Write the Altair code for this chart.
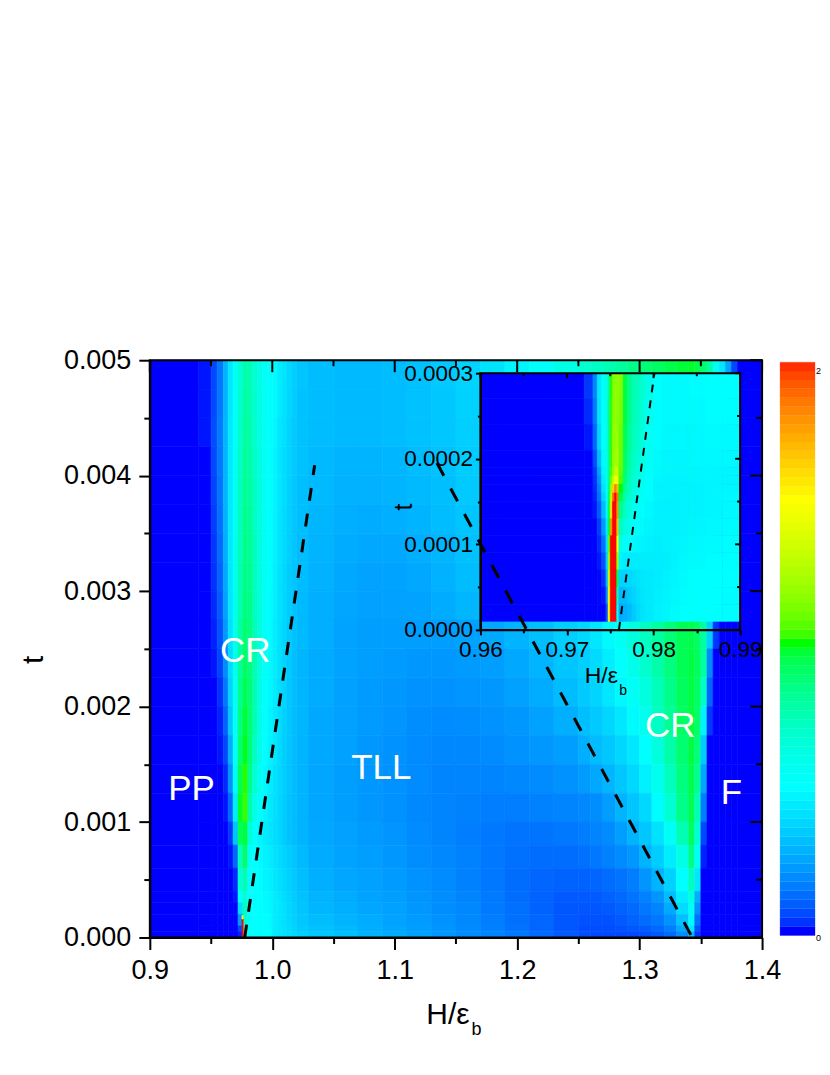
import altair as alt
import pandas as pd

FONT = "Liberation Sans"

# ---------- main map: column edges in H/eps_b, row edges in t ----------
x_edges = [0.90, 0.94, 0.95, 0.955, 0.96, 0.964, 0.968, 0.972, 0.976, 0.98, 0.984, 0.988, 0.992, 0.996, 1.0,
           1.004, 1.008, 1.012, 1.016, 1.02, 1.03, 1.05, 1.07, 1.09, 1.11, 1.13, 1.15, 1.17, 1.19, 1.21, 1.23,
           1.25, 1.26, 1.27, 1.28, 1.29, 1.30, 1.31, 1.32, 1.33, 1.34, 1.345, 1.35, 1.355, 1.36, 1.365, 1.37,
           1.375, 1.38, 1.40]
t_edges_down = [0.005, 0.00475, 0.0045, 0.00425, 0.004, 0.00375, 0.0035, 0.00325, 0.003, 0.00275, 0.0025,
                0.00225, 0.002, 0.00175, 0.0015, 0.00125, 0.001, 0.0008, 0.0006, 0.0004, 0.0003, 0.0002,
                0.0001, 0.00005, 0.0]
main_rows = [
 [0,1,8,20,40,60,72,85,94,92,85,80,74,72,68,62,58,54,50,46,43,42,42,43,45,48,52,58,66,72,80,85,88,92,96,100,103,106,109,111,112,110,105,95,76,60,35,8,0],
 [0,1,8,20,40,60,72,86,95,93,86,80,75,72,68,62,58,53,49,45,43,42,42,43,45,47,51,57,65,71,79,84,88,92,96,100,103,106,109,111,112,110,104,92,72,55,28,5,0],
 [0,1,9,21,41,61,72,87,96,94,87,80,75,71,67,61,57,52,48,45,43,42,42,43,45,47,50,56,64,70,78,83,87,91,95,99,103,106,109,111,113,110,103,88,66,45,20,2,0],
 [0,0,8,20,40,61,73,88,97,95,88,81,75,71,66,60,56,52,48,45,42,40,40,41,43,45,49,55,62,69,77,82,86,91,95,99,103,106,109,112,113,110,100,82,58,32,10,0,0],
 [0,0,7,19,40,61,74,90,98,96,89,82,75,71,66,60,56,51,47,44,42,39,39,40,42,44,48,53,60,68,76,81,85,90,94,98,102,106,109,112,113,108,96,75,48,20,4,0,0],
 [0,0,6,18,39,61,75,90,99,97,89,82,75,70,65,59,55,50,47,44,41,38,37,38,40,43,46,51,58,66,74,80,84,89,93,98,102,106,109,112,113,106,90,66,35,10,0,0,0],
 [0,0,5,16,38,61,76,91,100,98,90,82,75,70,65,59,55,50,46,43,40,37,36,36,38,41,45,50,57,65,73,78,83,88,93,97,102,106,109,112,112,103,85,55,22,4,0,0,0],
 [0,0,4,14,36,60,77,92,101,99,90,82,75,70,64,58,54,49,46,43,39,36,34,34,36,39,43,48,55,63,72,77,82,87,92,97,102,106,109,112,111,100,78,42,12,0,0,0,0],
 [0,0,3,12,33,59,77,93,102,100,90,82,74,69,64,58,54,49,45,42,38,35,33,33,34,37,41,46,53,61,70,76,81,86,92,97,102,106,110,112,110,106,98,70,18,1,0,0,0],
 [0,0,2,10,30,57,77,95,104,101,91,82,74,69,63,57,53,48,45,42,38,34,32,32,32,32,33,36,40,44,50,54,60,68,75,82,89,96,103,108,109,106,95,50,5,0,0,0,0],
 [0,0,1,7,26,55,76,97,106,102,92,82,73,68,63,57,52,48,44,41,37,34,32,31,30,30,31,32,36,40,46,50,55,63,71,78,86,94,102,108,110,107,96,25,0,0,0,0,0],
 [0,0,0,4,20,52,75,99,108,103,92,81,72,67,62,56,52,47,44,41,37,33,31,30,28,28,29,30,33,37,43,48,52,60,67,74,82,91,100,107,110,106,88,15,0,0,0,0,0],
 [0,0,0,2,14,46,72,101,111,104,92,80,71,66,61,56,51,47,43,41,36,33,31,29,27,26,27,28,30,33,38,44,48,53,60,68,77,88,98,106,110,105,65,5,0,0,0,0,0],
 [0,0,0,1,8,38,70,104,113,103,89,78,70,65,60,55,50,46,43,40,36,33,30,28,26,25,25,26,28,30,32,38,43,47,53,60,70,82,94,104,110,102,48,0,0,0,0,0,0],
 [0,0,0,0,3,28,68,108,115,100,85,75,68,63,58,54,50,46,43,40,35,32,30,28,26,24,24,24,25,26,28,31,36,41,47,54,64,77,90,102,109,98,35,0,0,0,0,0,0],
 [0,0,0,0,1,15,62,112,116,95,78,72,66,61,57,53,49,45,43,40,35,32,30,28,25,24,23,22,22,23,24,25,27,32,40,46,54,69,85,100,108,92,22,0,0,0,0,0,0],
 [0,0,0,0,0,5,45,108,110,85,70,66,62,59,56,53,49,45,43,40,36,33,31,29,26,24,22,20,19,19,20,22,24,26,32,40,47,58,74,92,106,85,8,0,0,0,0,0,0],
 [0,0,0,0,0,1,15,90,105,72,70,68,65,62,58,55,52,49,46,42,37,34,32,30,27,25,23,20,18,17,17,18,20,23,26,30,40,49,62,80,100,75,2,0,0,0,0,0,0],
 [0,0,0,0,0,0,3,85,92,70,70,69,66,64,60,57,54,51,48,44,38,35,33,31,28,26,23,20,17,15,14,14,15,17,19,22,29,40,51,70,90,60,0,0,0,0,0,0,0],
 [0,0,0,0,0,0,1,70,85,70,70,70,68,66,62,59,56,52,49,45,40,37,34,32,29,27,24,21,17,14,12,12,12,14,16,19,23,29,43,62,82,38,0,0,0,0,0,0,0],
 [0,0,0,0,0,0,0,55,90,71,70,70,69,67,62,60,57,53,50,46,41,38,35,33,30,27,25,21,18,14,11,11,11,12,14,16,20,24,36,55,75,28,0,0,0,0,0,0,0],
 [0,0,0,0,0,0,0,30,85,72,70,70,70,68,62,60,57,54,51,47,43,40,37,34,31,28,25,22,18,15,11,10,10,10,12,14,17,20,28,45,68,18,0,0,0,0,0,0,0],
 [0,0,0,0,0,0,0,8,80,72,71,70,70,69,62,60,58,55,52,48,45,42,38,35,32,29,26,23,19,15,11,9,9,9,10,11,13,16,22,36,60,10,0,0,0,0,0,0,0],
 [0,0,0,0,0,0,0,2,75,72,71,70,70,70,62,60,58,56,54,51,47,44,40,37,33,30,27,24,20,16,12,9,8,8,8,8,9,11,16,26,42,5,0,0,0,0,0,0,0],
]
# the narrow red tip at the foot of the left wedge
tip_x = [0.9752, 0.9762]
tip_t = [0.0, 0.00016, 0.00019]
tip_z = [200, 150]

# ---------- inset map ----------
ix_edges = [0.96, 0.972, 0.973, 0.9735, 0.974, 0.9745, 0.97475, 0.975, 0.97525, 0.9755, 0.97575, 0.976, 0.9765,
            0.977, 0.9775, 0.978, 0.9785, 0.979, 0.98, 0.981, 0.982, 0.983, 0.984, 0.986, 0.988, 0.99]
it_edges_down = [0.0003, 0.00027, 0.00024, 0.00021, 0.00019, 0.00018, 0.00017, 0.00016, 0.00015, 0.00013,
                 0.00011, 0.00009, 0.00007, 0.00005, 0.00003, 0.00001]
inset_rows = [
 [0,5,24,60,72,80,96,115,125,128,128,125,110,100,92,90,86,78,70,68,68,68,69,70,70],
 [0,3,20,58,70,80,100,116,126,128,128,124,110,100,92,88,84,76,69,68,68,68,68,69,69],
 [0,1,15,52,70,78,98,116,127,130,130,122,108,98,90,86,82,75,69,67,67,67,67,68,68],
 [0,0,9,42,68,78,98,116,128,132,132,122,106,96,88,84,80,74,68,66,66,66,67,67,67],
 [0,0,5,32,66,78,98,118,130,138,140,120,104,94,86,82,78,72,67,66,66,66,66,66,66],
 [0,0,4,27,62,76,100,122,140,154,150,118,102,92,84,80,76,71,66,65,65,65,66,66,66],
 [0,0,3,22,58,74,104,130,165,185,170,114,98,90,82,78,74,70,65,65,65,65,65,66,66],
 [0,0,2,18,52,72,108,140,190,200,185,110,94,86,80,76,72,69,65,65,64,65,65,66,67],
 [0,0,1,12,42,68,110,160,200,200,180,100,88,82,76,73,70,67,64,64,64,65,65,66,67],
 [0,0,0,6,30,62,112,180,200,200,170,90,82,76,72,70,68,66,64,64,64,65,66,67,68],
 [0,0,0,3,18,58,120,200,200,200,150,80,72,70,68,66,65,64,63,64,65,66,67,68,69],
 [0,0,0,1,10,50,130,200,200,200,130,66,62,62,62,62,62,62,62,63,65,67,68,69,69],
 [0,0,0,0,4,40,140,200,200,200,110,52,52,54,56,58,60,61,62,64,66,68,70,70,70],
 [0,0,0,0,1,25,150,200,200,200,90,42,44,48,52,56,59,61,63,65,67,69,70,70,69],
 [0,0,0,0,0,10,150,200,200,200,70,36,38,42,48,54,58,61,64,66,68,70,70,70,69],
]

# ---------- dashed lines ----------
left_H = [0.9775, 1.0346]
left_t = [0.0, 0.00409]
right_H = [1.1345, 1.343]
right_t = [0.00411, 0.0]
inset_H = [0.976, 0.9801]
inset_t = [0.0, 0.0003]

# ---------- labels ----------
region_names = ["PP", "CR", "TLL", "CR", "F"]
region_H = [0.934, 0.978, 1.089, 1.325, 1.375]
region_t = [0.00129, 0.00248, 0.00147, 0.00183, 0.00125]

main_x_major = [0.9, 1.0, 1.1, 1.2, 1.3, 1.4]
main_x_minor = [0.95, 1.05, 1.15, 1.25, 1.35]
main_y_major = [0.0, 0.001, 0.002, 0.003, 0.004, 0.005]
main_y_minor = [0.0005, 0.0015, 0.0025, 0.0035, 0.0045]
in_x_major = [0.96, 0.97, 0.98, 0.99]
in_x_minor = [0.965, 0.975, 0.985]
in_y_major = [0.0, 0.0001, 0.0002, 0.0003]
in_y_minor = [0.00005, 0.00015, 0.00025]

# colour stops
z_stops = [0, 70, 114, 154, 200]
colors = ["#0000ff", "#00ffff", "#00ff00", "#ffff00", "#ff0000"]
bar_pos = [576, 432, 288, 144, 2]

def cells(xe, te, rows):
    out = []
    for r, row in enumerate(rows):
        assert len(row) == len(xe) - 1, (r, len(row))
        for c, z in enumerate(row):
            out.append(dict(x0=xe[c], x1=xe[c + 1], t0=te[r + 1], t1=te[r], z=z))
    return pd.DataFrame(out)

assert len(main_rows) == len(t_edges_down) - 1
assert len(inset_rows) == len(it_edges_down) - 1
main_df = cells(x_edges, t_edges_down, main_rows)
inset_df = cells(ix_edges, it_edges_down, inset_rows)
tip_df = pd.DataFrame([dict(x0=tip_x[0], x1=tip_x[1], t0=tip_t[i], t1=tip_t[i + 1], z=tip_z[i]) for i in range(2)])

bar = []
for i in range(4):
    a, b = z_stops[i], z_stops[i + 1]
    for k in range(16):
        bar.append(dict(z0=a + (b - a) * k / 16, z1=a + (b - a) * (k + 1) / 16))
bar_df = pd.DataFrame(bar)

Xm = alt.Scale(domain=[0.9, 1.4], range=[0, 613], nice=False, zero=False)
Ym = alt.Scale(domain=[0, 0.005], range=[578, 0], nice=False, zero=False)
Xi = alt.Scale(domain=[0.96, 0.99], range=[331, 591], nice=False, zero=False)
Yi = alt.Scale(domain=[0, 0.0003], range=[270, 13], nice=False, zero=False)
Cs = alt.Scale(domain=z_stops, range=colors)

def axis(orient, values, size_test, major, minor, fmt, label_test, font, **kw):
    return alt.Axis(orient=orient, values=values, title=None, grid=False, zindex=1,
                    domainColor="black", domainWidth=2, tickColor="black", tickWidth=2,
                    tickSize={"condition": {"test": size_test, "value": major}, "value": minor},
                    labelExpr=f"{label_test} ? format(datum.value,'{fmt}') : ''",
                    labelFont=FONT, labelFontSize=font, labelColor="black",
                    labelOverlap=False, labelBound=False, labelFlush=False, **kw)

tx = "round(datum.value*20)%2==0"
ty = "round(datum.value*2000)%2==0"
tix = "round(datum.value*200)%2==0"
tiy = "round(datum.value*20000)%2==0"

def heat(df, xs, ys, xa=None, ya=None):
    return alt.Chart(df).mark_rect(strokeWidth=0.6).encode(
        x=alt.X("x0:Q", scale=xs, axis=xa), x2="x1:Q",
        y=alt.Y("t0:Q", scale=ys, axis=ya), y2="t1:Q",
        color=alt.Color("z:Q", scale=Cs, legend=None),
        stroke=alt.Stroke("z:Q", scale=Cs, legend=None))

main_heat = heat(main_df, Xm, Ym,
                 axis("bottom", main_x_major + main_x_minor, tx, 12, 6, ".1f", tx, 27, labelPadding=8),
                 axis("left", main_y_major + main_y_minor, ty, 11, 6, ".3f", ty, 27, labelPadding=8))
tip_heat = heat(tip_df, Xm, Ym)
inset_heat = heat(inset_df, Xi, Yi,
                  axis("bottom", in_x_major + in_x_minor, tix, 5, 3, ".2f", tix, 22.5, offset=-308, labelPadding=4),
                  axis("left", in_y_major + in_y_minor, tiy, 5, 3, ".4f", tiy, 22.5, offset=-331, labelPadding=3))

def xticks(vals, xs, y0, y1):
    return alt.Chart(pd.DataFrame({"v": vals})).mark_rule(color="black", strokeWidth=2).encode(
        x=alt.X("v:Q", scale=xs, axis=None), y=alt.value(y0), y2=alt.value(y1))

def yticks(vals, ys, x0, x1):
    return alt.Chart(pd.DataFrame({"v": vals})).mark_rule(color="black", strokeWidth=2).encode(
        y=alt.Y("v:Q", scale=ys, axis=None), x=alt.value(x0), x2=alt.value(x1))

def frame(x0, x1, y0, y1):
    return alt.Chart(pd.DataFrame({"a": [0]})).mark_rect(fillOpacity=0, stroke="black", strokeWidth=2).encode(
        x=alt.value(x0), x2=alt.value(x1), y=alt.value(y0), y2=alt.value(y1))

def dashed(H, t, xs, ys, dash, width):
    df = pd.DataFrame({"H": H, "t": t, "o": list(range(len(H)))})
    return alt.Chart(df).mark_line(color="black", strokeWidth=width, strokeDash=dash).encode(
        x=alt.X("H:Q", scale=xs, axis=None), y=alt.Y("t:Q", scale=ys, axis=None), order="o:Q")

def label(text, x, y, size, angle=0, align="center"):
    return alt.Chart(pd.DataFrame({"s": [text]})).mark_text(
        font=FONT, fontSize=size, color="black", angle=angle, align=align, baseline="alphabetic").encode(
        text="s:N", x=alt.value(x), y=alt.value(y))

regions = alt.Chart(pd.DataFrame({"n": region_names, "H": region_H, "t": region_t})).mark_text(
    font=FONT, fontSize=35, color="white", baseline="middle", align="center").encode(
    text="n:N", x=alt.X("H:Q", scale=Xm, axis=None), y=alt.Y("t:Q", scale=Ym, axis=None))

color_bar = alt.Chart(bar_df).mark_rect(strokeWidth=0.3).encode(
    x=alt.value(631), x2=alt.value(666),
    y=alt.Y("z0:Q", scale=alt.Scale(domain=z_stops, range=bar_pos, nice=False, zero=False), axis=None), y2="z1:Q",
    color=alt.Color("z0:Q", scale=Cs, legend=None),
    stroke=alt.Stroke("z0:Q", scale=Cs, legend=None))

chart = alt.layer(
    main_heat, tip_heat, regions,
    frame(0, 613, 0, 578),
    xticks(main_x_major, Xm, 0, 12), xticks(main_x_minor, Xm, 0, 6),
    yticks(main_y_major, Ym, 613, 601), yticks(main_y_minor, Ym, 613, 607),
    inset_heat,
    frame(331, 591, 13, 270),
    xticks(in_x_major, Xi, 13, 18), xticks(in_x_minor, Xi, 13, 16),
    yticks(in_y_major, Yi, 591, 586), yticks(in_y_minor, Yi, 591, 588),
    dashed(inset_H, inset_t, Xi, Yi, [8, 8], 2),
    dashed(left_H, left_t, Xm, Ym, [13, 13], 3),
    dashed(right_H, right_t, Xm, Ym, [14.5, 14.5], 3),
    color_bar,
    label("2", 667, 14, 9, align="left"), label("0", 667, 582, 9, align="left"),
    label("t", -107, 300, 30, angle=270),
    label("H/ε", 298.5, 665, 30),
    label("b", 327, 676, 18),
    label("t", 262, 147, 25, angle=270),
    label("H/ε", 452, 323, 23),
    label("b", 474, 335, 14),
).resolve_scale(x="independent", y="independent").properties(
    width=613, height=578,
    padding={"left": 142, "top": 352, "right": 60, "bottom": 110},
    autosize=alt.AutoSizeParams(type="none", contains="content"),
).configure_view(stroke=None)

chart.save("out.html", embed_options={"renderer": "svg", "actions": False})
